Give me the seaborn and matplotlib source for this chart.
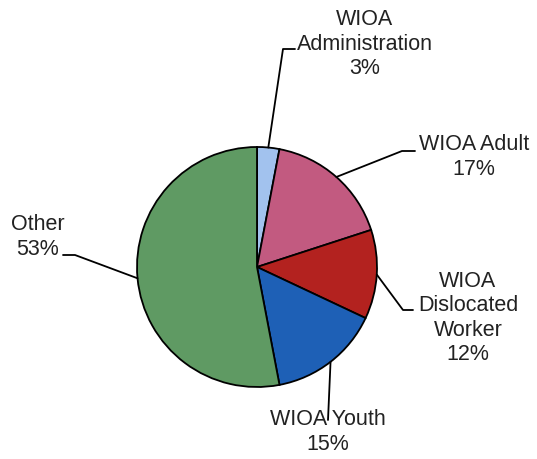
import matplotlib.pyplot as plt
import seaborn as sns
import numpy as np

# slice data, clockwise from 12 o'clock
labels = ['WIOA\nAdministration', 'WIOA Adult', 'WIOA\nDislocated\nWorker', 'WIOA Youth', 'Other']
values = [3, 17, 12, 15, 53]
colors = ['#a2c2ee', '#c25a80', '#b3221f', '#1e60b6', '#5f9a63']

sns.set_theme(style='white')
plt.rcParams['font.family'] = ['Liberation Sans', 'DejaVu Sans']

fig = plt.figure(figsize=(5.37, 4.59), dpi=100)
ax = fig.add_axes([0, 0, 1, 1])

cx, cy, r = 257, -267, 120
wedges, _ = ax.pie(values, colors=colors, startangle=90, counterclock=False,
                   center=(cx, cy), radius=r, frame=True,
                   wedgeprops=dict(edgecolor='black', linewidth=1.3))
ax.set_xlim(0, 537)
ax.set_ylim(-459, 0)
ax.set_aspect('equal')
ax.axis('off')

# label layout: elbow point, end of leader, text anchor
layout = [
    dict(elbow=(283, -49), end=(295, -49), text=(365, -44)),
    dict(elbow=(402, -151), end=(415, -151), text=(474, -157)),
    dict(elbow=(403, -310), end=(413, -310), text=(468, -318)),
    dict(elbow=(328, -420), end=(328, -420), text=(328, -432)),
    dict(elbow=(75, -255), end=(63, -255), text=(38, -237)),
]

for w, lab, v, lay in zip(wedges, labels, values, layout):
    ang = np.deg2rad((w.theta1 + w.theta2) / 2)
    sx, sy = cx + r * np.cos(ang), cy + r * np.sin(ang)
    ex, ey = lay['elbow']
    fx, fy = lay['end']
    ax.plot([sx, ex, fx], [sy, ey, fy], color='black', lw=1.3, zorder=1)
    ax.text(lay['text'][0], lay['text'][1], f'{lab}\n{v}%', ha='center', va='center',
            fontsize=15.5, color='#222222', linespacing=1.2)

fig.savefig('out.png', dpi=100)
